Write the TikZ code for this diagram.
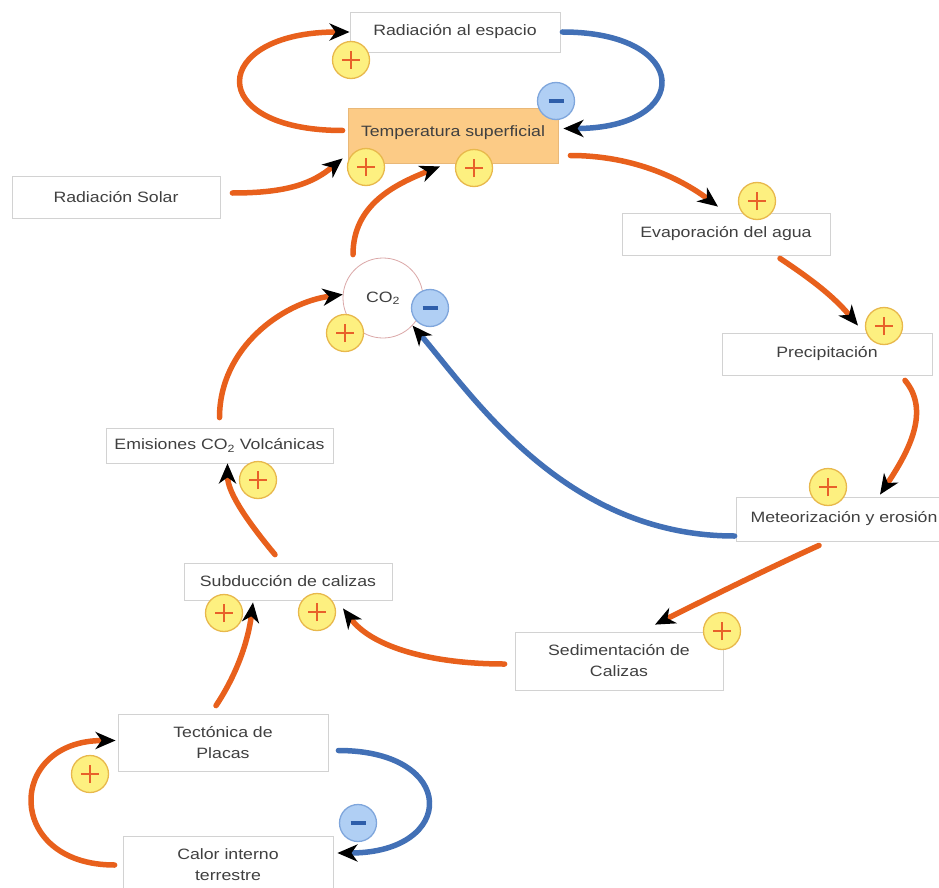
\documentclass[tikz,border=0pt]{standalone}
\usepackage{fontspec}
\setmainfont{Liberation Sans}[FakeStretch=1.18]
\usetikzlibrary{arrows.meta,calc}

\definecolor{txtC}{HTML}{404040}
\definecolor{boxC}{HTML}{D2D2D2}
\definecolor{tempF}{HTML}{FCCB86}
\definecolor{tempD}{HTML}{E9B878}
\definecolor{orangeC}{HTML}{E8601C}
\definecolor{blueC}{HTML}{4270B6}
\definecolor{plusF}{HTML}{FDF080}
\definecolor{plusD}{HTML}{E8B84C}
\definecolor{plusS}{HTML}{E8602A}
\definecolor{minusF}{HTML}{B0CFF4}
\definecolor{minusD}{HTML}{7FA6DC}
\definecolor{minusS}{HTML}{2E5EAA}

\begin{document}
\begin{tikzpicture}[x=1pt,y=-1pt,
  every node/.style={font=\fontsize{15}{21}\selectfont, text=txtC},
  box/.style={draw=boxC, line width=0.8pt, fill=white, align=center,
    minimum width=210pt, minimum height=42pt, inner sep=2pt},
  conn/.style={line width=5.5pt, line cap=round,
    -{Stealth[length=20pt,width=17pt,inset=6pt,black]}},
  posarrow/.style={conn, draw=orangeC},
  negarrow/.style={conn, draw=blueC},
  plusbadge/.style={circle, minimum size=37pt, inner sep=0pt, fill=plusF,
    draw=plusD, line width=1.3pt,
    path picture={\draw[plusS, line width=2.2pt]
      ([xshift=-9pt]path picture bounding box.center) -- ([xshift=9pt]path picture bounding box.center)
      ([yshift=-9pt]path picture bounding box.center) -- ([yshift=9pt]path picture bounding box.center);}},
  minusbadge/.style={circle, minimum size=37pt, inner sep=0pt, fill=minusF,
    draw=minusD, line width=1.3pt,
    path picture={\draw[minusS, line width=4pt]
      ([xshift=-7.5pt]path picture bounding box.center) -- ([xshift=7.5pt]path picture bounding box.center);}}
]
\useasboundingbox[fill=white] (0,0) rectangle (939,888);

% process boxes
\node[box, minimum height=40pt] (rads) at (455,32) {Radiación al espacio};
\node[box, draw=tempD, fill=tempF, minimum height=55pt] (temp) at (453,135.5) {\raisebox{8pt}{Temperatura superficial}};
\node[box, minimum width=208pt] (solar) at (116,197) {Radiación Solar};
\node[box, minimum width=208pt] (evap) at (726,234) {Evaporación del agua};
\node[circle, draw=boxC!80!red, line width=0.8pt, fill=white, minimum size=80pt, inner sep=0pt] (co2) at (383,298) {CO\textsubscript{2}};
\node[box] (precip) at (827,354) {Precipitación};
\node[box, minimum width=227pt, minimum height=35pt] (emis) at (219.5,445.5) {Emisiones CO\textsubscript{2} Volcánicas};
\node[box, minimum width=216pt, minimum height=44pt] (meteo) at (844,519) {Meteorización y erosión};
\node[box, minimum width=208pt, minimum height=37pt] (subd) at (288,581.5) {Subducción de calizas};
\node[box, minimum width=208pt, minimum height=58pt] (sedim) at (619,661) {Sedimentación de\\Calizas};
\node[box, minimum height=57pt] (tect) at (223,742.5) {Tectónica de\\Placas};
\node[box, minimum height=57pt] (calor) at (228,865) {Calor interno\\terrestre};

% causal links
\draw[posarrow] ($(temp.west)+(-5,-5)$) .. controls +(-140,0) and +(-140,0) .. (rads.west);
\draw[negarrow] ($(rads.east)+(2,0)$) .. controls +(130,0) and +(130,0) .. ($(temp.east)+(5,-7)$);
\draw[posarrow] ($(solar.east)+(12,-4)$) .. controls +(55,0) and +(-30,25) .. ($(temp.south west)+(-5,-5)$);
\draw[posarrow] ($(co2.north)+(-30,-3)$) .. controls +(0,-50) and +(-45,18) .. ($(temp.south)+(-13,3)$);
\draw[posarrow] ($(temp.east)+(12,20)$) .. controls +(60,0) and +(-40,-30) .. ($(evap.north)+(-8,-6)$);
\draw[posarrow] ($(evap.south)+(54,3)$) .. controls +(30,20) and +(-25,-30) .. ($(precip.north)+(31,-7)$);
\draw[posarrow] ($(precip.south)+(78,5)$) .. controls +(25,30) and +(30,-45) .. ($(meteo.north)+(36,-2)$);
\draw[negarrow] ($(meteo.west)+(-1,17)$) .. controls +(-170,0) and +(60,70) .. (co2.-43);
\draw[posarrow] ($(meteo.south)+(-25,4)$) .. controls +(-55,25) and +(50,-25) .. ($(sedim.north)+(36,-7)$);
\draw[posarrow] ($(sedim.west)+(-10,3)$) .. controls +(-70,0) and +(30,40) .. ($(subd.south)+(55,8)$);
\draw[posarrow] ($(tect.north)+(-7,-8)$) .. controls +(20,-30) and +(-5,40) .. ($(subd.south)+(-35,2)$);
\draw[posarrow] ($(subd.north)+(-13,-8)$) .. controls +(-25,-30) and +(0,30) .. ($(emis.south)+(8,0)$);
\draw[posarrow] ($(emis.north)+(0,-10)$) .. controls +(0,-70) and +(-60,8) .. (co2.175);
\draw[posarrow] ($(calor.west)+(-8,0)$) .. controls +(-110,0) and +(-110,0) .. ($(tect.west)+(-2,-2)$);
\draw[negarrow] ($(tect.east)+(10,8)$) .. controls +(120,0) and +(120,0) .. ($(calor.east)+(4,-12)$);

% polarity badges
\node[plusbadge] (p1) at (351,60) {};
\node[plusbadge] (p2) at (366,167) {};
\node[plusbadge] (p3) at (474,168) {};
\node[plusbadge] (p4) at (757,201) {};
\node[plusbadge] (p5) at (884,326) {};
\node[plusbadge] (p6) at (345,333) {};
\node[plusbadge] (p7) at (828,487) {};
\node[plusbadge] (p8) at (258,480) {};
\node[plusbadge] (p9) at (224,613) {};
\node[plusbadge] (p10) at (317,612) {};
\node[plusbadge] (p11) at (722,631) {};
\node[plusbadge] (p12) at (90,774) {};
\node[minusbadge] (m1) at (556,101) {};
\node[minusbadge] (m2) at (430,308) {};
\node[minusbadge] (m3) at (358,823) {};
\end{tikzpicture}
\end{document}
